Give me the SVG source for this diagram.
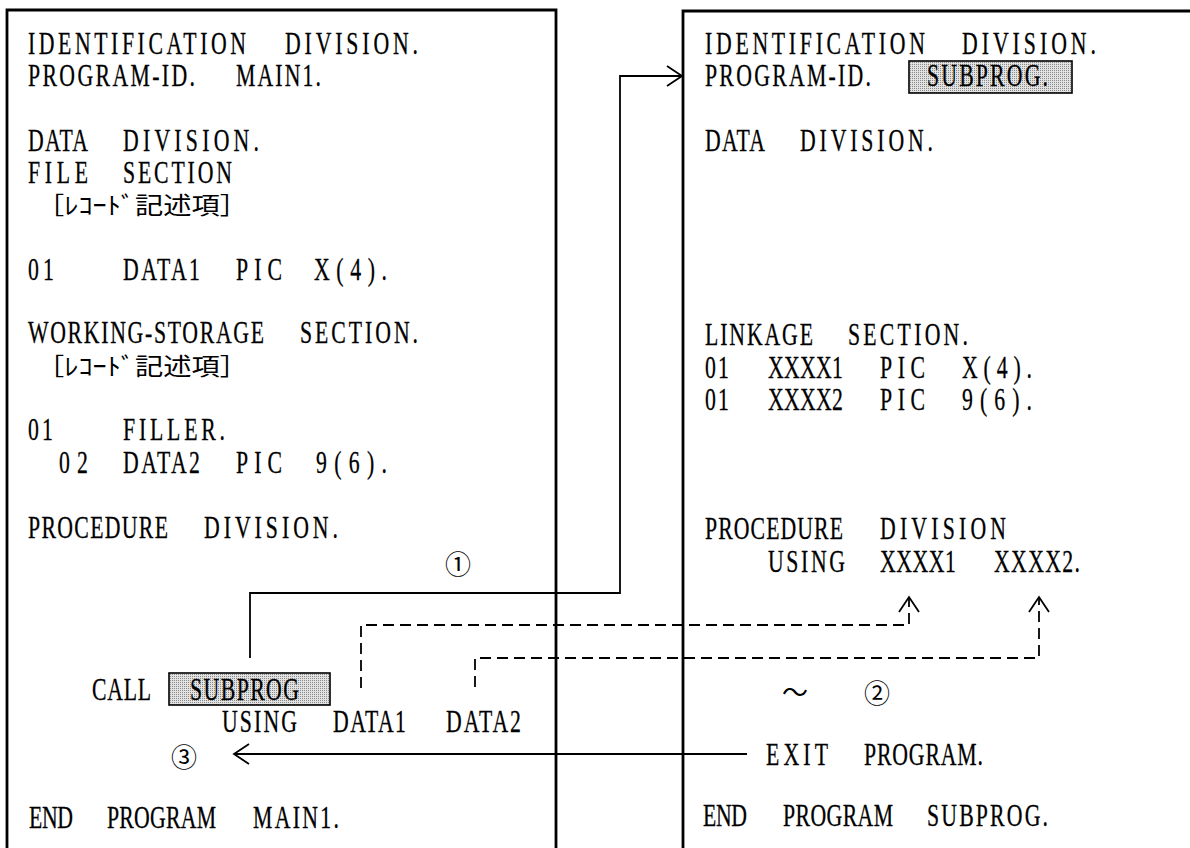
<svg xmlns="http://www.w3.org/2000/svg" width="1190" height="848" viewBox="0 0 1190 848">
<style>
.t{font-family:"Liberation Serif",serif;font-size:32px;fill:#000;stroke:#000;stroke-width:0.3}
.j{font-family:"Noto Sans CJK JP",sans-serif;font-size:24px;fill:#000}
.c{font-family:"Noto Sans CJK JP",sans-serif;font-size:26px;fill:#000}
.frame{fill:none;stroke:#000;stroke-width:2.8}
.hl{fill:url(#dots);stroke:#000;stroke-width:1.6}
.solid{fill:none;stroke:#000;stroke-width:1.8}
.dash{fill:none;stroke:#000;stroke-width:1.8;stroke-dasharray:11 6}
</style>
<defs>
<pattern id="dots" patternUnits="userSpaceOnUse" width="2" height="2">
<rect width="2" height="2" fill="#e2e2e2"/>
<rect width="1" height="1" fill="#8a8a8a"/>
</pattern>
<marker id="open" markerUnits="userSpaceOnUse" markerWidth="24" markerHeight="24" viewBox="-20 -12 24 24" refX="0" refY="0" orient="auto" overflow="visible">
<path d="M-15,-10 L0,0 L-15,10" fill="none" stroke="#000" stroke-width="1.8" stroke-dasharray="none"/>
</marker>
</defs>
<rect width="1190" height="848" fill="#fff"/>

<g id="main-program">
<path class="frame" d="M7,848 V10 H556 V848"/>
<rect class="hl" x="169" y="673" width="161" height="32"/>
<text class="j" x="36" y="214" textLength="212" lengthAdjust="spacingAndGlyphs">［ﾚｺｰﾄﾞ記述項］</text>
<text class="j" x="36" y="375" textLength="212" lengthAdjust="spacingAndGlyphs">［ﾚｺｰﾄﾞ記述項］</text>
<text class="c" x="458" y="562" text-anchor="middle" dominant-baseline="central">①</text>
<text class="c" x="184" y="755" text-anchor="middle" dominant-baseline="central">③</text>
<g transform="scale(0.68 1)">
<text class="t" x="41.18" y="54" textLength="320.59" lengthAdjust="spacing">IDENTIFICATION</text>
<text class="t" x="419.12" y="54" textLength="195.59" lengthAdjust="spacing">DIVISION.</text>
<text class="t" x="41.18" y="86" textLength="245.59" lengthAdjust="spacing">PROGRAM-ID.</text>
<text class="t" x="347.06" y="86" textLength="125" lengthAdjust="spacing">MAIN1.</text>
<text class="t" x="41.18" y="151" textLength="88.24" lengthAdjust="spacing">DATA</text>
<text class="t" x="180.88" y="151" textLength="200" lengthAdjust="spacing">DIVISION.</text>
<text class="t" x="41.18" y="183" textLength="88.24" lengthAdjust="spacing">FILE</text>
<text class="t" x="180.88" y="183" textLength="160.29" lengthAdjust="spacing">SECTION</text>
<text class="t" x="41.18" y="280" textLength="38.24" lengthAdjust="spacing">01</text>
<text class="t" x="180.88" y="280" textLength="113.24" lengthAdjust="spacing">DATA1</text>
<text class="t" x="347.06" y="280" textLength="67.65" lengthAdjust="spacing">PIC</text>
<text class="t" x="461.76" y="280" textLength="107.35" lengthAdjust="spacing">X(4).</text>
<text class="t" x="41.18" y="343" textLength="347.06" lengthAdjust="spacing">WORKING-STORAGE</text>
<text class="t" x="441.18" y="343" textLength="173.53" lengthAdjust="spacing">SECTION.</text>
<text class="t" x="41.18" y="440" textLength="36.76" lengthAdjust="spacing">01</text>
<text class="t" x="180.88" y="440" textLength="150" lengthAdjust="spacing">FILLER.</text>
<text class="t" x="86.76" y="473" textLength="42.65" lengthAdjust="spacing">02</text>
<text class="t" x="180.88" y="473" textLength="113.24" lengthAdjust="spacing">DATA2</text>
<text class="t" x="347.06" y="473" textLength="67.65" lengthAdjust="spacing">PIC</text>
<text class="t" x="464.71" y="473" textLength="104.41" lengthAdjust="spacing">9(6).</text>
<text class="t" x="41.18" y="538" textLength="205.88" lengthAdjust="spacing">PROCEDURE</text>
<text class="t" x="300" y="538" textLength="197.06" lengthAdjust="spacing">DIVISION.</text>
<text class="t" x="135.29" y="700" textLength="86.76" lengthAdjust="spacing">CALL</text>
<text class="t" x="279.41" y="700" textLength="160.29" lengthAdjust="spacing">SUBPROG</text>
<text class="t" x="326.47" y="732" textLength="110.29" lengthAdjust="spacing">USING</text>
<text class="t" x="489.71" y="732" textLength="107.35" lengthAdjust="spacing">DATA1</text>
<text class="t" x="655.88" y="732" textLength="110.29" lengthAdjust="spacing">DATA2</text>
<text class="t" x="42.65" y="828" textLength="64.71" lengthAdjust="spacing">END</text>
<text class="t" x="157.35" y="828" textLength="160.29" lengthAdjust="spacing">PROGRAM</text>
<text class="t" x="372.06" y="828" textLength="126.47" lengthAdjust="spacing">MAIN1.</text>
</g>
</g>

<g id="sub-program">
<path class="frame" d="M683,848 V11 H1190"/>
<rect class="hl" x="909" y="61" width="163" height="32"/>
<text class="c" x="795" y="690" text-anchor="middle" dominant-baseline="central">～</text>
<text class="c" x="877" y="691" text-anchor="middle" dominant-baseline="central">②</text>
<g transform="scale(0.68 1)">
<text class="t" x="1036.76" y="54" textLength="323.53" lengthAdjust="spacing">IDENTIFICATION</text>
<text class="t" x="1414.71" y="54" textLength="197.06" lengthAdjust="spacing">DIVISION.</text>
<text class="t" x="1036.76" y="86" textLength="244.12" lengthAdjust="spacing">PROGRAM-ID.</text>
<text class="t" x="1363.24" y="86" textLength="177.94" lengthAdjust="spacing">SUBPROG.</text>
<text class="t" x="1036.76" y="151" textLength="88.24" lengthAdjust="spacing">DATA</text>
<text class="t" x="1176.47" y="151" textLength="195.59" lengthAdjust="spacing">DIVISION.</text>
<text class="t" x="1036.76" y="345" textLength="158.82" lengthAdjust="spacing">LINKAGE</text>
<text class="t" x="1247.06" y="345" textLength="176.47" lengthAdjust="spacing">SECTION.</text>
<text class="t" x="1036.76" y="378" textLength="35.29" lengthAdjust="spacing">01</text>
<text class="t" x="1129.41" y="378" textLength="110.29" lengthAdjust="spacing">XXXX1</text>
<text class="t" x="1294.12" y="378" textLength="66.18" lengthAdjust="spacing">PIC</text>
<text class="t" x="1414.71" y="378" textLength="102.94" lengthAdjust="spacing">X(4).</text>
<text class="t" x="1036.76" y="410" textLength="35.29" lengthAdjust="spacing">01</text>
<text class="t" x="1129.41" y="410" textLength="110.29" lengthAdjust="spacing">XXXX2</text>
<text class="t" x="1294.12" y="410" textLength="66.18" lengthAdjust="spacing">PIC</text>
<text class="t" x="1414.71" y="410" textLength="102.94" lengthAdjust="spacing">9(6).</text>
<text class="t" x="1036.76" y="539" textLength="202.94" lengthAdjust="spacing">PROCEDURE</text>
<text class="t" x="1294.12" y="539" textLength="185.29" lengthAdjust="spacing">DIVISION</text>
<text class="t" x="1129.41" y="572" textLength="113.24" lengthAdjust="spacing">USING</text>
<text class="t" x="1294.12" y="572" textLength="111.76" lengthAdjust="spacing">XXXX1</text>
<text class="t" x="1461.76" y="572" textLength="126.47" lengthAdjust="spacing">XXXX2.</text>
<text class="t" x="1126.47" y="765" textLength="91.18" lengthAdjust="spacing">EXIT</text>
<text class="t" x="1270.59" y="765" textLength="175" lengthAdjust="spacing">PROGRAM.</text>
<text class="t" x="1033.82" y="826" textLength="64.71" lengthAdjust="spacing">END</text>
<text class="t" x="1151.47" y="826" textLength="161.76" lengthAdjust="spacing">PROGRAM</text>
<text class="t" x="1363.24" y="826" textLength="177.94" lengthAdjust="spacing">SUBPROG.</text>
</g>
</g>

<g id="connectors">
<path class="solid" d="M250,658 V593 H620 V76 H682" marker-end="url(#open)"/>
<path class="dash" d="M361,688 V625 H909 V597" marker-end="url(#open)"/>
<path class="dash" d="M475,687 V658 H1039 V597" marker-end="url(#open)"/>
<path class="solid" d="M747,754 H234" marker-end="url(#open)"/>
</g>
</svg>
